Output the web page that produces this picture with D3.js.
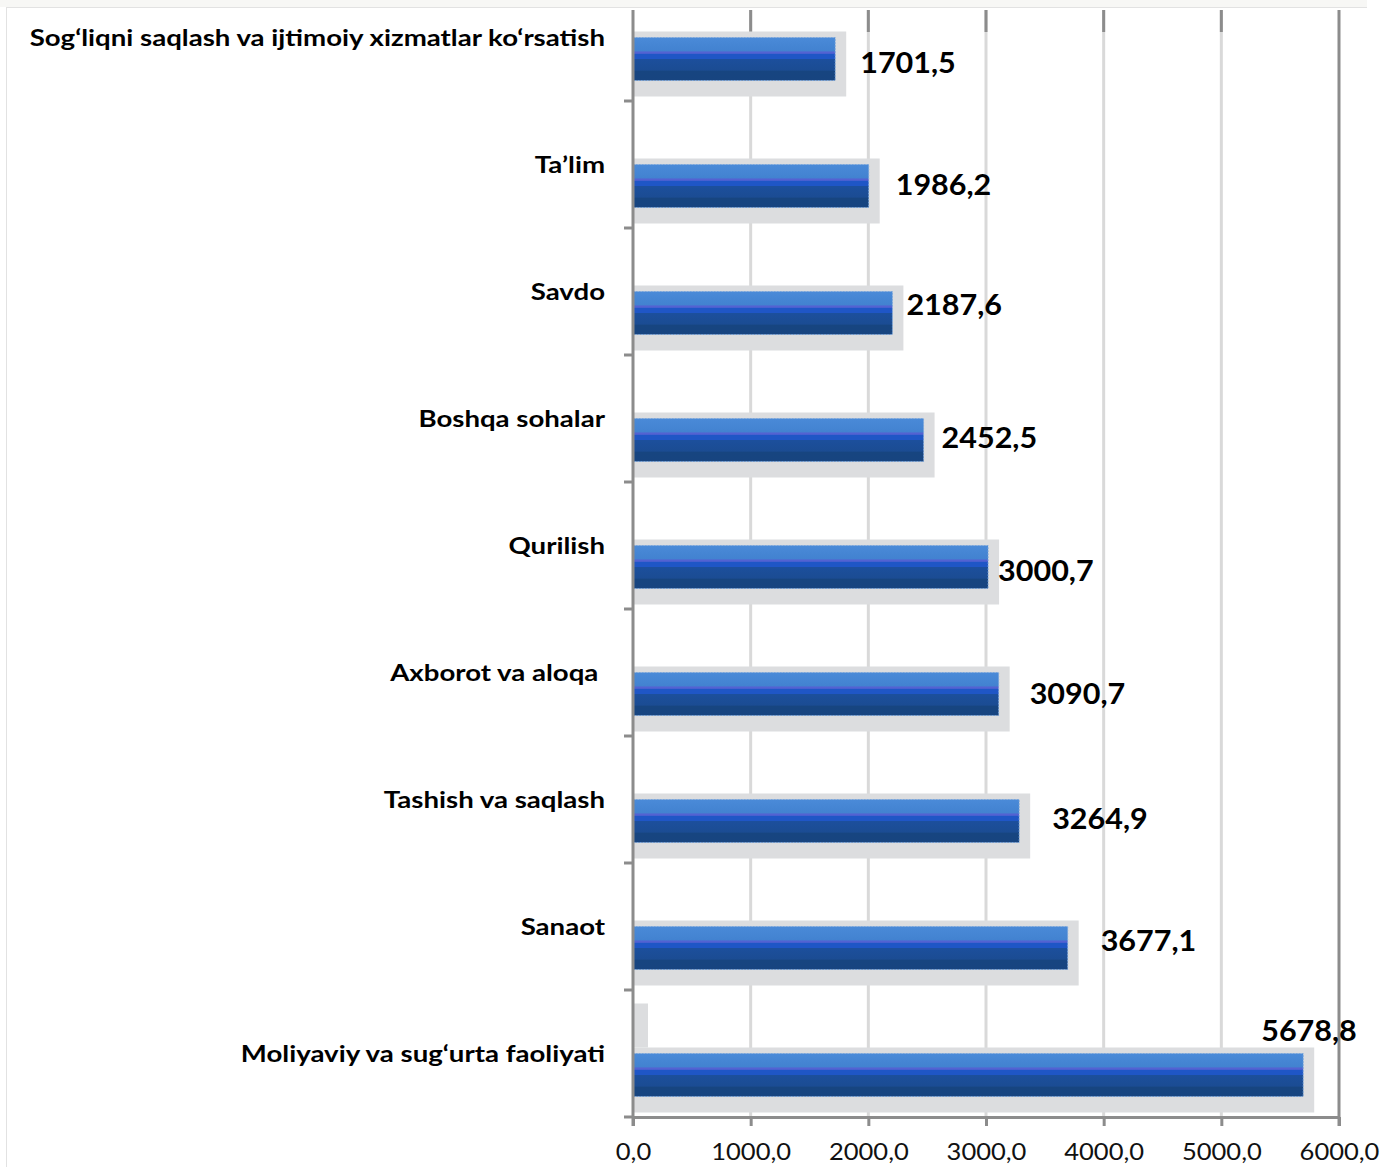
<!DOCTYPE html>
<html>
<head>
<meta charset="utf-8">
<script src="https://cdn.jsdelivr.net/npm/d3@7"></script>
<style>
html,body{margin:0;padding:0;background:#fff;}
svg{display:block;}
</style>
</head>
<body>
<svg id="chart" width="1382" height="1167"></svg>
<script>
// ---- data ----
const categories = [
  "Sog‘liqni saqlash va ijtimoiy xizmatlar ko‘rsatish",
  "Ta’lim",
  "Savdo",
  "Boshqa sohalar",
  "Qurilish",
  "Axborot va aloqa ",
  "Tashish va saqlash",
  "Sanaot",
  "Moliyaviy va sug‘urta faoliyati"
];
const values = [1701.5, 1986.2, 2187.6, 2452.5, 3000.7, 3090.7, 3264.9, 3677.1, 5678.8];
const tickValues = [0, 1000, 2000, 3000, 4000, 5000, 6000];
// label nudges (px) as placed in the original
const labelDx = [27, 29, 16, 20, 12, 33, 35, 35, -40];
const labelDy = [4, -1, -8, -2, 4, 0, -2, -7, -44];

const fmt = v => d3.format(".1f")(v).replace(".", ",");

const svg = d3.select("#chart");
const W = 1382, H = 1167;
const FONT = "Lato, 'Open Sans', sans-serif";

// background frame
svg.append("rect").attr("x",0).attr("y",0).attr("width",1367).attr("height",7).attr("fill","#f7f7f5");
svg.append("line").attr("x1",6).attr("x2",1367).attr("y1",7.5).attr("y2",7.5).attr("stroke","#e2e2e2").attr("stroke-width",1);
svg.append("line").attr("x1",6.5).attr("x2",6.5).attr("y1",7).attr("y2",H).attr("stroke","#e2e2e2").attr("stroke-width",1);

const x = d3.scaleLinear().domain([0, 6000]).range([633, 1339]);
const y = d3.scaleBand().domain(categories).range([-26, 1117]).paddingInner(0).paddingOuter(0);
const plotTop = 10, plotBottom = 1117;
const barH = 43;

// gradient
const defs = svg.append("defs");
const g = defs.append("linearGradient").attr("id","barGrad").attr("x1",0).attr("y1",0).attr("x2",0).attr("y2",1);
[
  [0, "#4a8ad8"], [0.32, "#4282d0"], [0.33, "#5362d2"], [0.37, "#5362d2"],
  [0.38, "#1f56c6"], [0.5, "#1f56c6"], [0.51, "#1c4f9c"], [0.76, "#1b4c93"],
  [0.78, "#174580"], [1, "#174480"]
].forEach(([o,c]) => g.append("stop").attr("offset", o).attr("stop-color", c));

// gridlines
const inner = tickValues.filter(t => t > 0 && t < 6000);
svg.append("g").selectAll("line").data(inner).join("line")
  .attr("x1", d => x(d)).attr("x2", d => x(d))
  .attr("y1", plotTop).attr("y2", plotBottom)
  .attr("stroke", "#d9d9d9").attr("stroke-width", 3);
svg.append("g").selectAll("line").data(inner).join("line")
  .attr("x1", d => x(d)).attr("x2", d => x(d))
  .attr("y1", plotTop).attr("y2", 32)
  .attr("stroke", "#8c8c8c").attr("stroke-width", 3);
svg.append("line").attr("x1", x(6000)).attr("x2", x(6000)).attr("y1", plotTop).attr("y2", plotBottom + 9)
  .attr("stroke", "#8c8c8c").attr("stroke-width", 3);

// shadows
const rows = categories.map((c, i) => ({c, v: values[i], i}));
svg.append("g").selectAll("rect").data(rows).join("rect")
  .attr("x", x(0))
  .attr("y", d => y(d.c) + y.bandwidth()/2 - 6)
  .attr("width", d => x(d.v) - x(0) + 13)
  .attr("height", barH + 22)
  .attr("fill", "#dcdddf");
// small 3D artifact near last bar
svg.append("rect").attr("x", x(0)).attr("y", y(categories[8]) + y.bandwidth()/2 - 50)
  .attr("width", 15).attr("height", 44).attr("fill", "#dcdddf");

// bars
svg.append("g").selectAll("rect").data(rows).join("rect")
  .attr("x", x(0))
  .attr("y", d => y(d.c) + y.bandwidth()/2)
  .attr("width", d => x(d.v) - x(0) + 2)
  .attr("height", barH)
  .attr("fill", "url(#barGrad)")
  .attr("stroke", "#7aa6dc").attr("stroke-width", 1).attr("stroke-dasharray", "1.5,1.5");

// left axis line
svg.append("line").attr("x1", x(0)).attr("x2", x(0)).attr("y1", plotTop).attr("y2", plotBottom + 9)
  .attr("stroke", "#8c8c8c").attr("stroke-width", 3);
// left ticks at band boundaries
const bounds = categories.map(c => y(c) + y.step());
svg.append("g").selectAll("line").data(bounds).join("line")
  .attr("x1", x(0) - 9).attr("x2", x(0))
  .attr("y1", d => d).attr("y2", d => d)
  .attr("stroke", "#8c8c8c").attr("stroke-width", 3);

// bottom axis
const xAxis = d3.axisBottom(x).tickValues(tickValues).tickSize(9).tickSizeOuter(0).tickFormat(fmt);
const ax = svg.append("g").attr("transform", `translate(0,${plotBottom})`).call(xAxis);
ax.select(".domain").attr("stroke", "#8c8c8c").attr("stroke-width", 3);
ax.selectAll(".tick line").attr("stroke", "#8c8c8c").attr("stroke-width", 3);
ax.selectAll(".tick text").attr("font-family", FONT).attr("font-size", 23)
  .attr("fill", "#111").attr("dy", 0).attr("y", 43)
  .attr("transform", "scale(1.11,1)");

// category labels
svg.append("g").selectAll("text").data(rows).join("text")
  .attr("transform", d => `translate(605,${y(d.c) + y.bandwidth()/2}) scale(1.2,1)`)
  .attr("dy", "0.35em")
  .attr("text-anchor", "end")
  .attr("xml:space", "preserve")
  .style("white-space", "pre")
  .attr("font-family", FONT)
  .attr("font-weight", "bold")
  .attr("font-size", 23)
  .attr("fill", "#000")
  .text(d => d.c);

// value labels
svg.append("g").selectAll("text").data(rows).join("text")
  .attr("transform", d => `translate(${x(d.v) + labelDx[d.i]},${y(d.c) + y.bandwidth()/2 + barH/2 + labelDy[d.i]}) scale(1.09,1)`)
  .attr("dy", "0.35em")
  .attr("font-family", FONT)
  .attr("font-weight", "bold")
  .attr("font-size", 28)
  .attr("fill", "#000")
  .text(d => fmt(d.v));
</script>
</body>
</html>
